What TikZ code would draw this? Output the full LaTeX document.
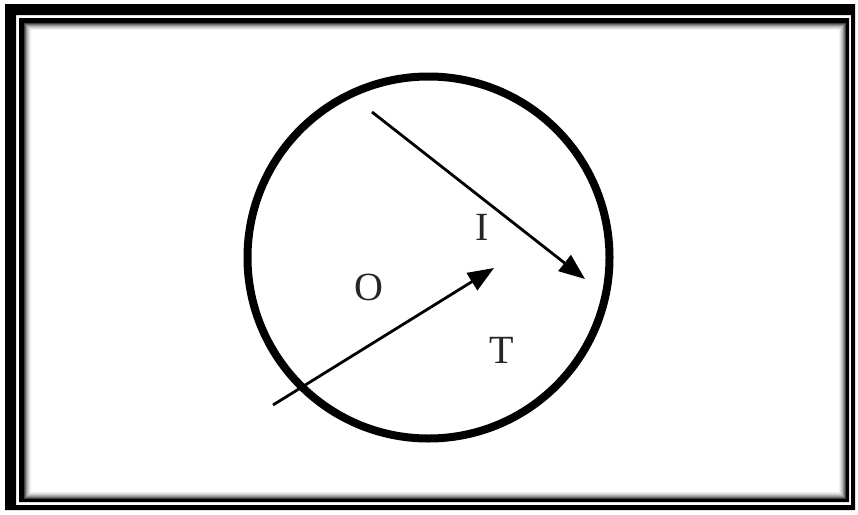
\documentclass[tikz,border=0pt]{standalone}
\usepackage{fontspec}
\setmainfont{Liberation Serif}
\usetikzlibrary{arrows.meta}
\begin{document}
\begin{tikzpicture}[x=1pt,y=-1pt,
  arr/.style={line width=2.8pt,-{Triangle[length=26pt,width=20pt]}},
  lbl/.style={font=\fontsize{40}{40}\selectfont,inner sep=0pt,text=black!85}]
\useasboundingbox (0,0) rectangle (858,514);
% frame
\fill[black,even odd rule] (5,4) rectangle (855,510) (16,15) rectangle (851,505);
\fill[black,even odd rule] (19,18) rectangle (849,502) (24,23) rectangle (846,499);
\foreach \i/\g in {0.5/75,1.5/58,2.5/42,3.5/30,4.5/20,5.5/12,6.5/6}{
  \draw[line width=1pt,black!\g] (24+\i,23+\i) rectangle (846-\i,499-\i);
}
% circle
\draw[line width=8pt] (428.5,257.5) circle (181);
% labels
\node[lbl] (I) at (482,227) {I};
\node[lbl] (O) at (369,287) {O};
\node[lbl] (T) at (502,350) {T};
% arrows
\coordinate (a1s) at (372,112);
\coordinate (a1e) at (585,279);
\coordinate (a2s) at (273,405);
\coordinate (a2e) at (494,268);
\draw[arr] (a1s) -- (a1e);
\draw[arr] (a2s) -- (a2e);
\end{tikzpicture}
\end{document}
